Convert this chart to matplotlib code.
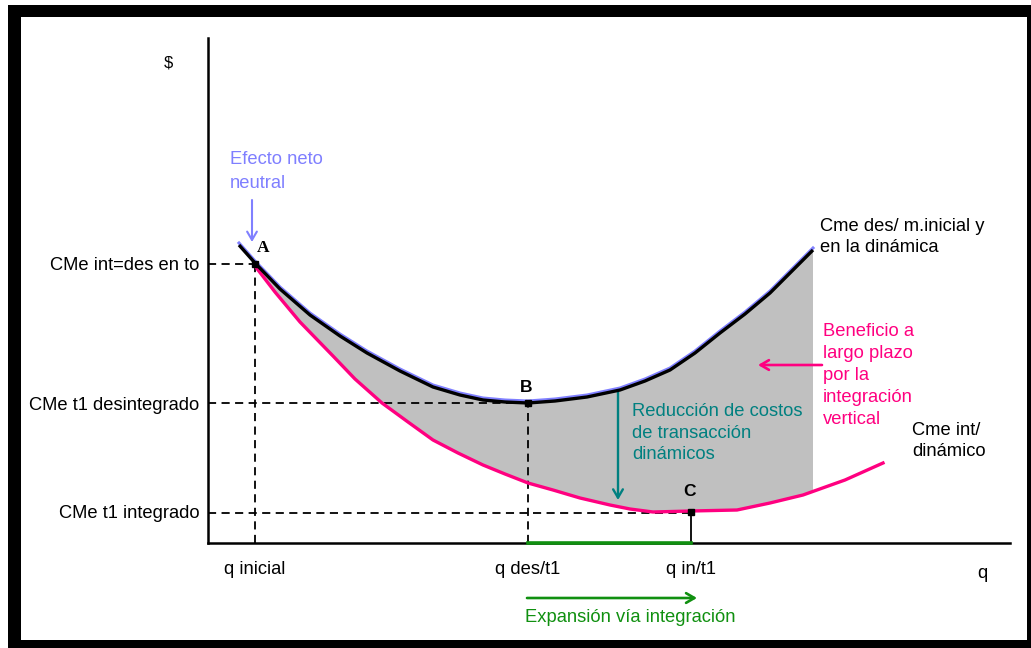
import numpy as np
import matplotlib
matplotlib.use("Agg")
import matplotlib.pyplot as plt
from matplotlib.patches import Rectangle

# curve points (q units, cost units, origin where the axes meet)
des_q = [31, 47, 72, 102, 132, 159, 192, 225, 252, 275, 297, 320, 347, 379, 412, 437,
         462, 487, 512, 537, 562, 582, 605]
des_c = [298, 280, 254, 228, 207, 190, 172, 156, 148, 143, 141, 140, 142, 146, 153, 162,
         173, 190, 210, 229, 250, 270, 293]

int_q = [47, 67, 92, 125, 147, 174, 200, 225, 250, 275, 297, 320, 345, 372, 402, 422,
         445, 483, 529, 562, 595, 637, 675]
int_c = [277, 251, 221, 187, 164, 140, 121, 103, 90, 78, 69, 60, 53, 45, 38, 34,
         31, 32, 33, 40, 48, 63, 80]

# labelled points A, B, C
pt_names = ["A", "B", "C"]
pt_q = [47, 320, 483]
pt_c = [279, 140, 31]

y_ticks = [279, 140, 31]
y_labels = ["CMe int=des en to", "CMe t1 desintegrado", "CMe t1 integrado"]
x_ticks = [47, 320, 483]
x_labels = ["q inicial", "q des/t1", "q in/t1"]

FONT = "Liberation Sans"
FS = 13.2
W, H = 1031, 648

fig = plt.figure(figsize=(W / 100, H / 100), dpi=100)

# black frame round the picture
fig.add_artist(Rectangle((8 / W, 0), 1 - 8 / W, 1 - 5 / H, transform=fig.transFigure,
                         facecolor="black", edgecolor="none", zorder=-2))
fig.add_artist(Rectangle((21 / W, 8 / H), (1027 - 21) / W, (640 - 17) / H,
                         transform=fig.transFigure, facecolor="white",
                         edgecolor="none", zorder=-1))

ax = fig.add_axes([208 / W, (H - 543) / H, (1010 - 208) / W, (543 - 38) / H])
ax.patch.set_visible(False)
ax.set_xlim(0, 802)
ax.set_ylim(0, 505)
for s in ["top", "right"]:
    ax.spines[s].set_visible(False)
for s in ["left", "bottom"]:
    ax.spines[s].set_linewidth(1.8)

ax.set_xticks(x_ticks)
ax.set_xticklabels(x_labels, fontsize=FS, family=FONT)
ax.set_yticks(y_ticks)
ax.set_yticklabels(y_labels, fontsize=FS, family=FONT)
ax.tick_params(axis="x", length=0, pad=13)
ax.tick_params(axis="y", length=0, pad=6)

# shaded gap between the two cost curves
des_q_a = np.array(des_q)
des_c_a = np.array(des_c)
keep = des_q_a >= pt_q[0]
right_q = des_q_a[keep][-1]
int_q_a = np.array(int_q)
int_c_a = np.array(int_c)
low = int_q_a < right_q
poly_q = list(des_q_a[keep]) + [right_q] + list(int_q_a[low][::-1])
poly_c = list(des_c_a[keep]) + [np.interp(right_q, int_q, int_c)] + list(int_c_a[low][::-1])
ax.fill(poly_q, poly_c, color="#c0c0c0", zorder=1, lw=0)

# guide lines
dash = dict(color="black", lw=1.3, dashes=(4.5, 3), zorder=2)
ax.plot([0, pt_q[0]], [pt_c[0], pt_c[0]], **dash)
ax.plot([pt_q[0], pt_q[0]], [0, pt_c[0]], **dash)
ax.plot([0, pt_q[1]], [pt_c[1], pt_c[1]], **dash)
ax.plot([pt_q[1], pt_q[1]], [0, pt_c[1]], **dash)
ax.plot([0, pt_q[2]], [pt_c[2] - 1, pt_c[2] - 1], **dash)
ax.plot([pt_q[2], pt_q[2]], [0, pt_c[2]], color="black", lw=1.3, zorder=2)

# green segment on the q axis
ax.plot([pt_q[1], pt_q[2]], [0, 0], color="#109010", lw=2.6, zorder=4, clip_on=False)

# cost curves
ax.plot(des_q, np.array(des_c) + 2, color="#8080ff", lw=2.2, zorder=3)
ax.plot(des_q, des_c, color="black", lw=2.4, zorder=4, solid_capstyle="butt",
        solid_joinstyle="round")
ax.plot(int_q, int_c, color="#ff0080", lw=2.4, zorder=3, solid_joinstyle="round")

ax.plot(pt_q, pt_c, "s", color="black", ms=4.5, zorder=5)
ax.text(pt_q[0] + 8, pt_c[0] + 16, pt_names[0], fontsize=12.5, fontweight="bold",
        family="Liberation Serif", ha="center", va="center")
ax.text(pt_q[1] - 2, pt_c[1] + 15, pt_names[1], fontsize=12.5, fontweight="bold",
        family=FONT, ha="center", va="center")
ax.text(pt_q[2] - 1, pt_c[2] + 21, pt_names[2], fontsize=12.5, fontweight="bold",
        family=FONT, ha="center", va="center")

# arrows
def arrow(x0, y0, x1, y1, color, lw):
    ax.annotate("", xy=(x1, y1), xytext=(x0, y0), annotation_clip=False,
                arrowprops=dict(arrowstyle="->,head_length=0.6,head_width=0.35",
                                color=color, lw=lw, shrinkA=0, shrinkB=0))

arrow(44, 343, 44, 301, "#8080ff", 1.5)
arrow(410, 151, 410, 43, "#008080", 1.7)
arrow(614, 178, 550, 178, "#ff0080", 1.9)
arrow(319, -55, 489, -55, "#109010", 1.9)

# annotations
txt = dict(fontsize=FS, family=FONT, ha="left", va="top", clip_on=False)
ax.text(-40, 480, "$", fontsize=12, family=FONT, ha="center", va="center")
ax.text(774, -30, "q", fontsize=FS, family=FONT, ha="center", va="center")
ax.text(22, 392, "Efecto neto\nneutral", color="#7f7fff", linespacing=1.5, **txt)
ax.text(612, 325, "Cme des/ m.inicial y\nen la dinámica", color="black",
        linespacing=1.3, **txt)
ax.text(615, 220, "Beneficio a\nlargo plazo\npor la\nintegración\nvertical",
        color="#ff0080", linespacing=1.38, **txt)
ax.text(704, 121, "Cme int/\ndinámico", color="black", linespacing=1.3, **txt)
ax.text(424, 140, "Reducción de costos\nde transacción\ndinámicos", color="#008080",
        linespacing=1.36, **txt)
ax.text(422, -75, "Expansión vía integración", color="#109010", fontsize=FS,
        family=FONT, ha="center", va="center")

fig.savefig("out.png", dpi=100)
